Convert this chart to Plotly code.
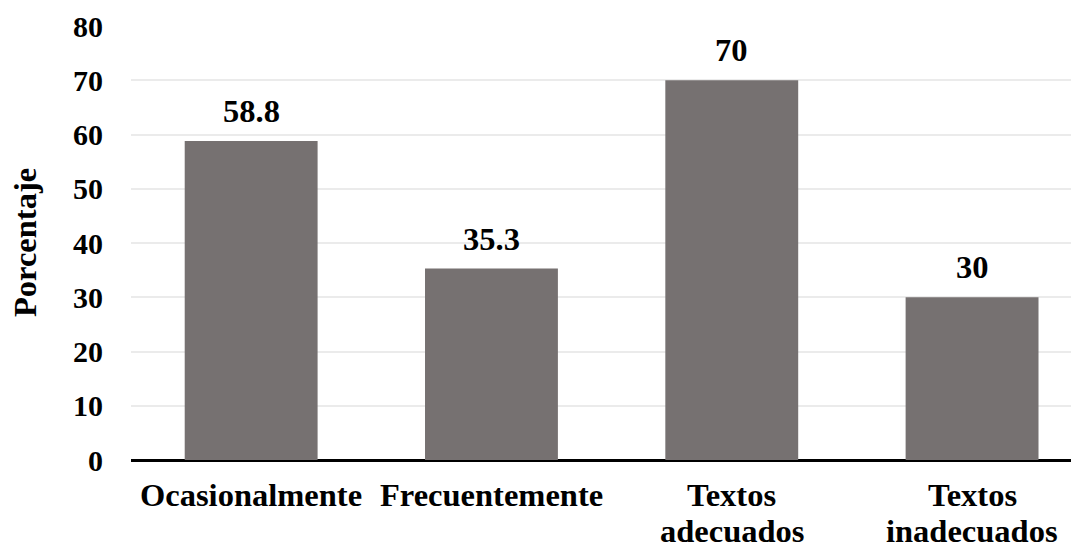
import plotly.graph_objects as go

categories = ["Ocasionalmente", "Frecuentemente", "Textos adecuados", "Textos inadecuados"]
category_lines = [["Ocasionalmente"], ["Frecuentemente"], ["Textos", "adecuados"], ["Textos", "inadecuados"]]
values = [58.8, 35.3, 70, 30]
labels = ["58.8", "35.3", "70", "30"]
y_ticks = [0, 10, 20, 30, 40, 50, 60, 70, 80]

ff = "Liberation Serif, Times New Roman, serif"
BIG = 32.5
TICK = 30

fig = go.Figure(go.Bar(
    x=categories, y=values, width=0.553,
    marker=dict(color="#767171", line=dict(width=0)),
    hoverinfo="skip",
))

annotations = []
for cat, val, lab in zip(categories, values, labels):
    annotations.append(dict(
        x=cat, y=val, xref="x", yref="y", text=lab, showarrow=False,
        yanchor="bottom", yshift=10,
        font=dict(family=ff, size=BIG, color="#000000", weight="bold"),
    ))
for cat, lines in zip(categories, category_lines):
    for i, line in enumerate(lines):
        annotations.append(dict(
            x=cat, y=0, xref="x", yref="paper", text=line, showarrow=False,
            yanchor="top", yshift=-15 - 36 * i,
            font=dict(family=ff, size=BIG, color="#000000", weight="bold"),
        ))
annotations.append(dict(
    x=0, y=0.5, xref="paper", yref="paper", text="Porcentaje", textangle=-90,
    showarrow=False, xanchor="center", yanchor="middle", xshift=-106,
    font=dict(family=ff, size=BIG, color="#000000", weight="bold"),
))

fig.update_layout(
    width=1071, height=540,
    margin=dict(l=123, r=0, t=18, b=88, autoexpand=False),
    paper_bgcolor="white", plot_bgcolor="white",
    showlegend=False,
    annotations=annotations,
    xaxis=dict(
        range=[-0.5, 3.445], showgrid=False, zeroline=False,
        showline=False, ticks="", showticklabels=False,
    ),
    yaxis=dict(
        range=[0, 80], tickvals=y_ticks, showgrid=True,
        gridcolor="#ebebeb", gridwidth=2,
        zeroline=True, zerolinecolor="#000000", zerolinewidth=3,
        showline=False, ticks="", ticklabelstandoff=27,
        tickfont=dict(family=ff, size=TICK, color="#000000", weight="bold"),
    ),
)

fig.write_html("out.html")
